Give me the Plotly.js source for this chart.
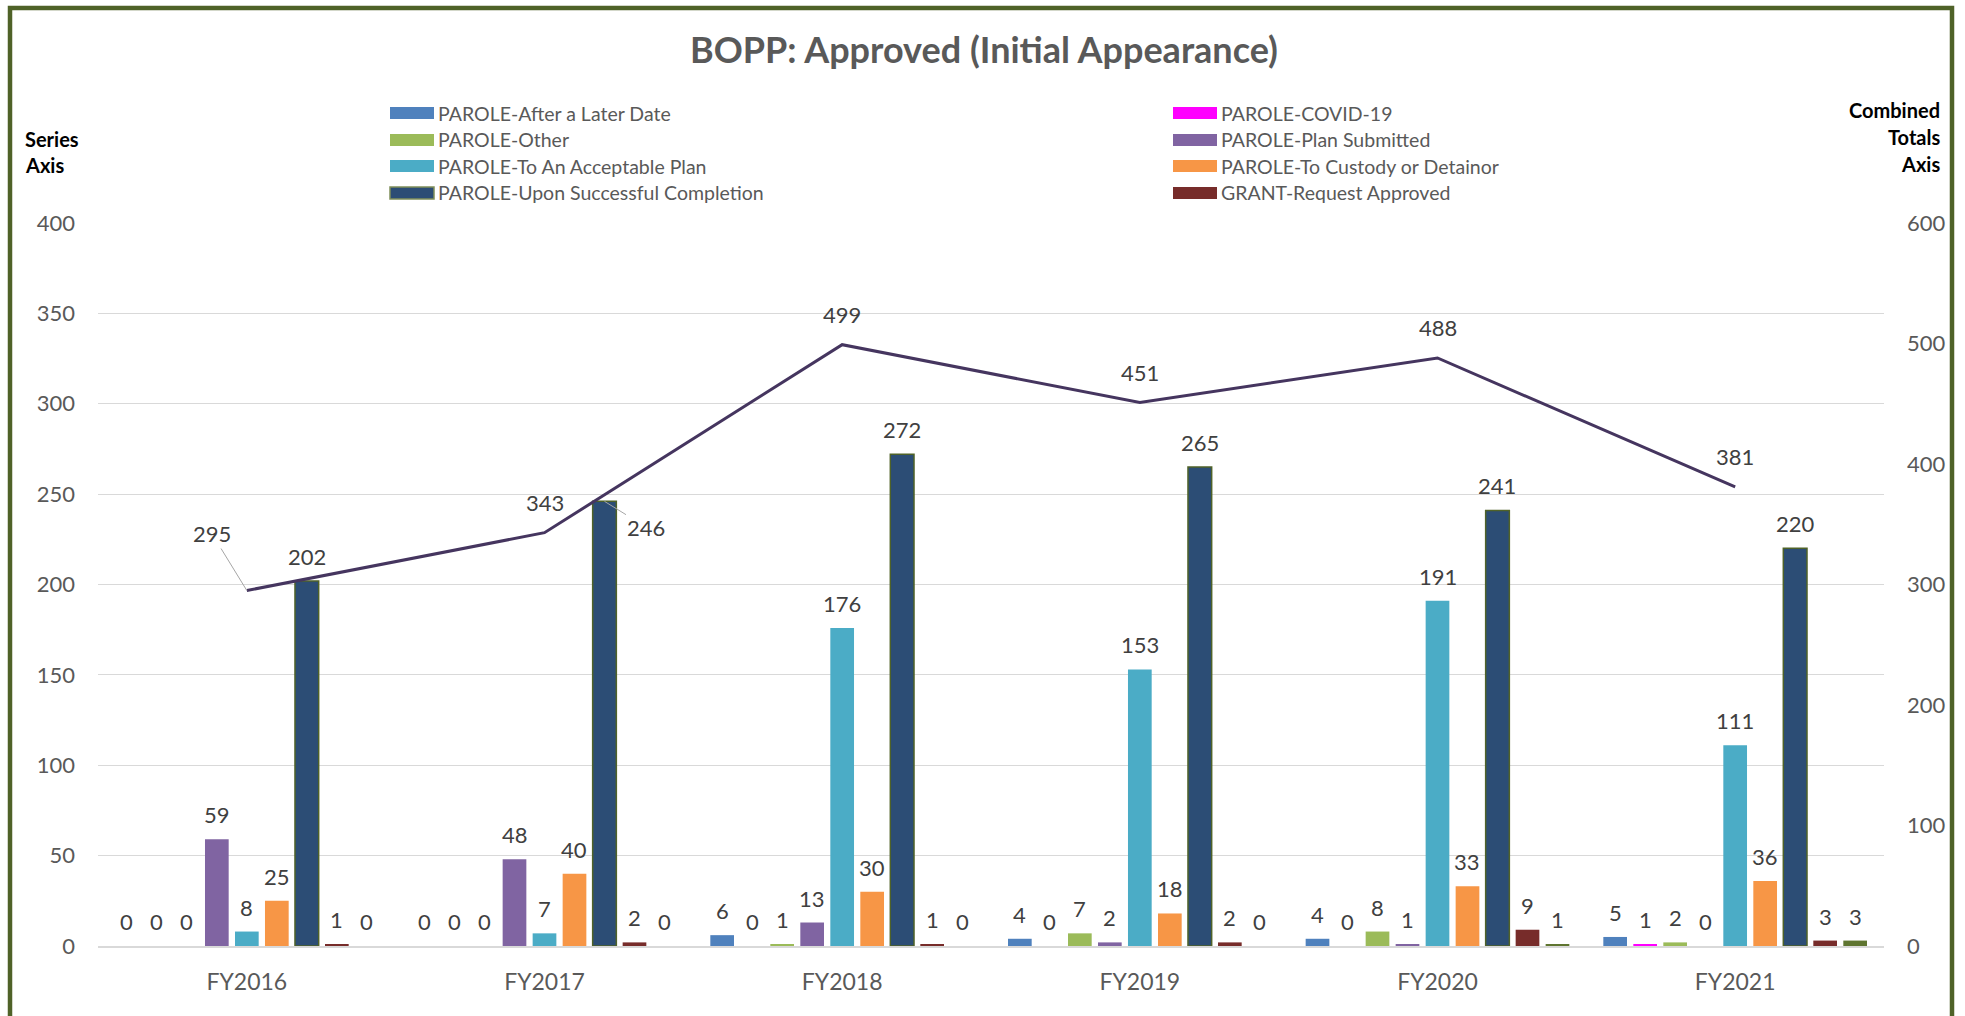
<!DOCTYPE html>
<html>
<head>
<meta charset="utf-8">
<script src="https://cdn.plot.ly/plotly-3.0.1.min.js"></script>
<style>
  html, body { margin: 0; padding: 0; background: #ffffff; }
  #chart { width: 1965px; height: 1016px; }
</style>
</head>
<body>
<div id="chart"></div>
<script>
// ---------------- DATA ----------------
const categories = ['FY2016', 'FY2017', 'FY2018', 'FY2019', 'FY2020', 'FY2021'];

const seriesNames = [
  'PAROLE-After a Later Date',
  'PAROLE-COVID-19',
  'PAROLE-Other',
  'PAROLE-Plan Submitted',
  'PAROLE-To An Acceptable Plan',
  'PAROLE-To Custody or Detainor',
  'PAROLE-Upon Successful Completion',
  'GRANT-Request Approved',
  'Unlisted Series'
];

const afterLaterDate       = [0, 0, 6, 4, 4, 5];
const covid19              = [0, 0, 0, 0, 0, 1];
const paroleOther          = [0, 0, 1, 7, 8, 2];
const planSubmitted        = [59, 48, 13, 2, 1, 0];
const acceptablePlan       = [8, 7, 176, 153, 191, 111];
const custodyDetainor      = [25, 40, 30, 18, 33, 36];
const successfulCompletion = [202, 246, 272, 265, 241, 220];
const grantApproved        = [1, 2, 1, 2, 9, 3];
const unlistedSeries       = [0, 0, 0, 0, 1, 3];

const combinedTotals = [295, 343, 499, 451, 488, 381];

const leftTicks  = [0, 50, 100, 150, 200, 250, 300, 350, 400];
const rightTicks = [0, 100, 200, 300, 400, 500, 600];

// ---------------- STYLE ----------------
const seriesValues = [afterLaterDate, covid19, paroleOther, planSubmitted, acceptablePlan,
                      custodyDetainor, successfulCompletion, grantApproved, unlistedSeries];
const seriesColors = ['#4F81BD', '#FF00FF', '#9BBB59', '#8064A2', '#4BACC6',
                      '#F79646', '#2C4D75', '#772C2A', '#5F7530'];
const inLegend = [true, true, true, true, true, true, true, true, false];
const lineColor = '#45355F';
const FONT = 'Lato, "Open Sans", "Noto Sans", sans-serif';
const W = 1965, H = 1016;
const M = { l: 98, r: 81, t: 223, b: 70 };
const plotW = W - M.l - M.r, plotH = H - M.t - M.b;
const BARGAP = 0.093, BARGROUPGAP = 0.21;
const slot = plotW / categories.length * (1 - BARGAP) / seriesValues.length;

const px2x = px => (px - M.l) / plotW;
const py2y = py => (H - M.b - py) / plotH;

// ---------------- TRACES ----------------
const traces = seriesValues.map((vals, i) => ({
  type: 'bar',
  name: seriesNames[i],
  x: categories,
  y: vals,
  yaxis: 'y',
  marker: {
    color: seriesColors[i],
    line: i === 6 ? { color: '#4F6228', width: 1.5 } : { width: 0 }
  },
  showlegend: false,
  hoverinfo: 'x+y+name'
}));

traces.push({
  type: 'scatter',
  mode: 'lines',
  name: 'Combined Totals',
  x: categories,
  y: combinedTotals,
  yaxis: 'y2',
  line: { color: lineColor, width: 3 },
  showlegend: false
});

// ---------------- ANNOTATIONS ----------------
const annotations = [];
const labelFont = { family: FONT, size: 22, color: '#404040' };
const nMid = (seriesValues.length - 1) / 2;

seriesValues.forEach((vals, i) => {
  vals.forEach((v, j) => {
    const base = {
      x: categories[j], y: v, xref: 'x', yref: 'y',
      text: String(v), font: labelFont, xshift: (i - nMid) * slot
    };
    if (i === 6 && j === 1) {
      // label moved right with leader line
      annotations.push(Object.assign(base, {
        showarrow: true, arrowhead: 0, arrowwidth: 1, arrowcolor: '#A6A6A6',
        ax: 42, ay: 26, xanchor: 'center', yanchor: 'middle', standoff: 0
      }));
    } else {
      annotations.push(Object.assign(base, {
        showarrow: false, xanchor: 'center', yanchor: 'bottom', yshift: 9
      }));
    }
  });
});

combinedTotals.forEach((v, j) => {
  const base = {
    x: categories[j], y: v, xref: 'x', yref: 'y2',
    text: String(v), font: labelFont
  };
  if (j === 0) {
    annotations.push(Object.assign(base, {
      showarrow: true, arrowhead: 0, arrowwidth: 1, arrowcolor: '#A6A6A6',
      ax: -35, ay: -57, xanchor: 'center', yanchor: 'middle'
    }));
  } else {
    annotations.push(Object.assign(base, {
      showarrow: false, xanchor: 'center', yanchor: 'middle', yshift: 30
    }));
  }
});

// axis titles
const axTitleFont = { family: FONT, size: 20, color: '#000000', weight: 'bold' };
[['<b>Series</b>', 139], ['<b>Axis</b>', 165]].forEach(([t, py]) => {
  annotations.push({ text: t, xref: 'paper', yref: 'paper', x: px2x(23), y: py2y(py),
    xanchor: 'left', yanchor: 'middle', showarrow: false, font: axTitleFont });
});
[['<b>Combined</b>', 110], ['<b>Totals</b>', 137], ['<b>Axis</b>', 164]].forEach(([t, py]) => {
  annotations.push({ text: t, xref: 'paper', yref: 'paper', x: px2x(1942), y: py2y(py),
    xanchor: 'right', yanchor: 'middle', showarrow: false, font: axTitleFont });
});

// custom legend (two columns, row-wise)
const shapes = [];
const legCols = [390, 1173];
const legRows = [113, 140, 166, 193];
let k = 0;
seriesNames.forEach((nm, i) => {
  if (!inLegend[i]) return;
  const col = k % 2, row = Math.floor(k / 2);
  const sx = legCols[col], sy = legRows[row];
  shapes.push({
    type: 'rect', xref: 'paper', yref: 'paper',
    x0: px2x(sx), x1: px2x(sx + 44), y0: py2y(sy + 6), y1: py2y(sy - 6),
    fillcolor: seriesColors[i],
    line: i === 6 ? { color: '#7F8F5A', width: 1.5 } : { width: 0 }
  });
  annotations.push({
    text: nm, xref: 'paper', yref: 'paper', x: px2x(sx + 46), y: py2y(sy),
    xanchor: 'left', yanchor: 'middle', showarrow: false,
    font: { family: FONT, size: 19.5, color: '#595959' }
  });
  k++;
});

// outer border
shapes.push({
  type: 'rect', xref: 'paper', yref: 'paper',
  x0: px2x(10), x1: px2x(1952), y0: py2y(1040), y1: py2y(8),
  line: { color: '#4F6228', width: 4.5 }, fillcolor: 'rgba(0,0,0,0)', layer: 'above'
});

// ---------------- LAYOUT ----------------
const layout = {
  width: W, height: H,
  margin: M,
  paper_bgcolor: '#ffffff',
  plot_bgcolor: '#ffffff',
  font: { family: FONT, color: '#595959' },
  title: {
    text: 'BOPP: Approved (Initial Appearance)',
    font: { family: FONT, size: 36, color: '#595959', weight: 'bold' },
    x: 984 / W, xanchor: 'center', xref: 'container',
    y: 1 - 50 / H, yanchor: 'middle', yref: 'container'
  },
  barmode: 'group',
  bargap: BARGAP,
  bargroupgap: BARGROUPGAP,
  showlegend: false,
  xaxis: {
    type: 'category',
    tickfont: { family: FONT, size: 23, color: '#595959' },
    showline: true, linecolor: '#D9D9D9', linewidth: 2,
    ticks: '', showgrid: false, zeroline: false,
    ticklabelstandoff: 14
  },
  yaxis: {
    range: [0, 400],
    tickvals: leftTicks,
    tickfont: { family: FONT, size: 22, color: '#595959' },
    gridcolor: '#D9D9D9', gridwidth: 1,
    zeroline: false, showline: false, ticks: '',
    ticklabelstandoff: 22
  },
  yaxis2: {
    range: [0, 600],
    tickvals: rightTicks,
    overlaying: 'y', side: 'right',
    tickfont: { family: FONT, size: 22, color: '#595959' },
    showgrid: false, zeroline: false, showline: false, ticks: '',
    ticklabelstandoff: 22
  },
  annotations: annotations,
  shapes: shapes
};

Plotly.newPlot('chart', traces, layout, { displayModeBar: false, responsive: false });
</script>
</body>
</html>
